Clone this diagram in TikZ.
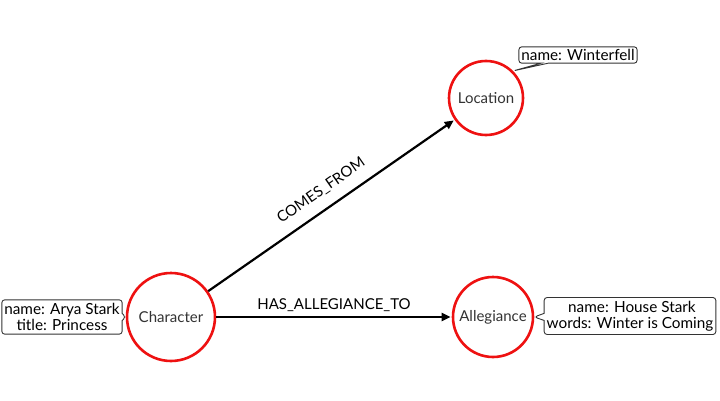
\documentclass[tikz,border=0pt]{standalone}
\usepackage{fontspec}
\setmainfont{Lato}
\usetikzlibrary{shapes.callouts,arrows.meta}
\definecolor{nodered}{HTML}{EE1111}
\definecolor{txtgray}{HTML}{333333}
\begin{document}
\begin{tikzpicture}[x=1pt,y=-1pt,
  entity/.style={circle,draw=nodered,line width=2.6pt,fill=white,text=txtgray,inner sep=0pt,font=\fontsize{15}{17}\selectfont},
  props/.style={rectangle callout,draw=black!80,line width=0.9pt,rounded corners=3pt,fill=white,align=center,inner xsep=2.5pt,inner ysep=3.5pt,font=\fontsize{15.3}{16}\selectfont},
  rel/.style={-{Triangle[length=9pt,width=8pt]},line width=2.2pt,shorten >=1pt},
  rellabel/.style={font=\fontsize{15}{17}\selectfont}]
\useasboundingbox (0,0) rectangle (720,401);
\node[entity,minimum size=88pt] (char) at (171,317) {Character};
\node[entity,minimum size=74pt] (loc) at (486,98) {Location};
\node[entity,minimum size=80pt] (alle) at (493,317) {Allegiance};
\node[props,callout absolute pointer={(char.west)}] (charp) at (62,317) {name: Arya Stark\\title: Princess};
\node[props,inner ysep=2.5pt,callout absolute pointer={(loc.north east)}] (locp) at (578,55) {name: Winterfell};
\node[props,callout absolute pointer={(alle.east)}] (allep) at (630,316) {\ name: House Stark\\words: Winter is Coming};
\draw[rel] (char) -- node[rellabel,above=7pt,sloped,pos=0.5] {COMES\_FROM} (loc);
\draw[rel] (char) -- node[rellabel,above=1pt] {HAS\_ALLEGIANCE\_TO} (alle);
\end{tikzpicture}
\end{document}
